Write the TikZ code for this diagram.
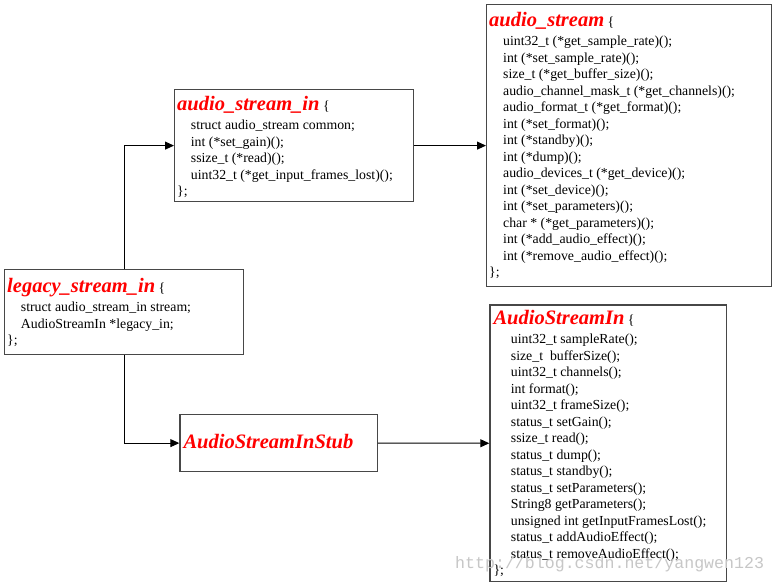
\documentclass[tikz,border=0pt]{standalone}
\usepackage{fontspec}
\setmainfont{Liberation Serif}
\newfontfamily\wmfont{Liberation Mono}
\usetikzlibrary{arrows.meta}
\newcommand\ttl[1]{{\fontsize{20.5}{24}\selectfont\bfseries\itshape\color{red}#1}}
\newdimen\bodyindent
\newcommand\bl[1]{\hbox{\hspace{\bodyindent}#1}}
\newcommand\hd[1]{\hbox{\ttl{#1} \{}\vskip 3pt}
\newcommand\ed{\hbox{\};}}
\begin{document}
\begin{tikzpicture}[x=1pt,y=-1pt,
  box/.style={draw=black!72, line width=1.2pt, rectangle, anchor=north west, inner sep=0pt},
  txt/.style={anchor=base west, inner sep=0pt, font=\fontsize{13.8}{16.5}\selectfont},
  arr/.style={draw=black, line width=1pt, -{Triangle[length=9pt,width=8pt]}},
  wm/.style={anchor=base west, inner sep=0pt, text=black!22, font=\wmfont\fontsize{16.6}{18}\selectfont}]
\fill[white] (0,0) rectangle (775,584);
\useasboundingbox (0,0) rectangle (775,584);

% boxes
\node[box, minimum width=239pt, minimum height=112pt] (asi) at (174,89) {};
\node[box, minimum width=284.5pt, minimum height=282pt] (as) at (486,4) {};
\node[box, minimum width=239pt, minimum height=85pt] (leg) at (4,269) {};
\node[box, minimum width=236.7pt, minimum height=276.7pt] (asin) at (489.3,304.3) {};
\node[box, minimum width=197.4pt, minimum height=57pt] (stub) at (179.3,414) {};

% texts
\node[txt] (asi-t) at (177,110) {\bodyindent=13.7pt\vtop{%
  \hd{audio\_stream\_in}
  \bl{struct audio\_stream common;}
  \bl{int (*set\_gain)();}
  \bl{ssize\_t (*read)();}
  \bl{uint32\_t (*get\_input\_frames\_lost)();}
  \ed}};

\node[txt] (as-t) at (489,26) {\bodyindent=14pt\vtop{%
  \hd{audio\_stream}
  \bl{uint32\_t (*get\_sample\_rate)();}
  \bl{int (*set\_sample\_rate)();}
  \bl{size\_t (*get\_buffer\_size)();}
  \bl{audio\_channel\_mask\_t (*get\_channels)();}
  \bl{audio\_format\_t (*get\_format)();}
  \bl{int (*set\_format)();}
  \bl{int (*standby)();}
  \bl{int (*dump)();}
  \bl{audio\_devices\_t (*get\_device)();}
  \bl{int (*set\_device)();}
  \bl{int (*set\_parameters)();}
  \bl{char * (*get\_parameters)();}
  \bl{int (*add\_audio\_effect)();}
  \bl{int (*remove\_audio\_effect)();}
  \ed}};

\node[txt] (leg-t) at (7,292) {\bodyindent=13.7pt\vtop{%
  \hd{legacy\_stream\_in}
  \bl{struct audio\_stream\_in stream;}
  \bl{AudioStreamIn *legacy\_in;}
  \ed}};

\node[txt] (asin-t) at (493.3,324.3) {\bodyindent=17.4pt\vtop{%
  \hd{AudioStreamIn}
  \bl{uint32\_t sampleRate();}
  \bl{size\_t\ \ bufferSize();}
  \bl{uint32\_t channels();}
  \bl{int format();}
  \bl{uint32\_t frameSize();}
  \bl{status\_t setGain();}
  \bl{ssize\_t read();}
  \bl{status\_t dump();}
  \bl{status\_t standby();}
  \bl{status\_t setParameters();}
  \bl{String8 getParameters();}
  \bl{unsigned int getInputFramesLost();}
  \bl{status\_t addAudioEffect();}
  \bl{status\_t removeAudioEffect();}
  \ed}};

\node[txt] (stub-t) at (183.3,448.3) {\ttl{AudioStreamInStub}};

% connectors
\draw[arr] (leg.north) |- (asi.west);
\draw[arr] (asi.east) -- (as.west);
\draw[arr] (leg.south) |- (stub.west);
\draw[arr] (stub.east) -- (asin.west);

% watermark
\node[wm] (wmark) at (455,568) {http://blog.csdn.net/yangwen123};
\end{tikzpicture}
\end{document}
